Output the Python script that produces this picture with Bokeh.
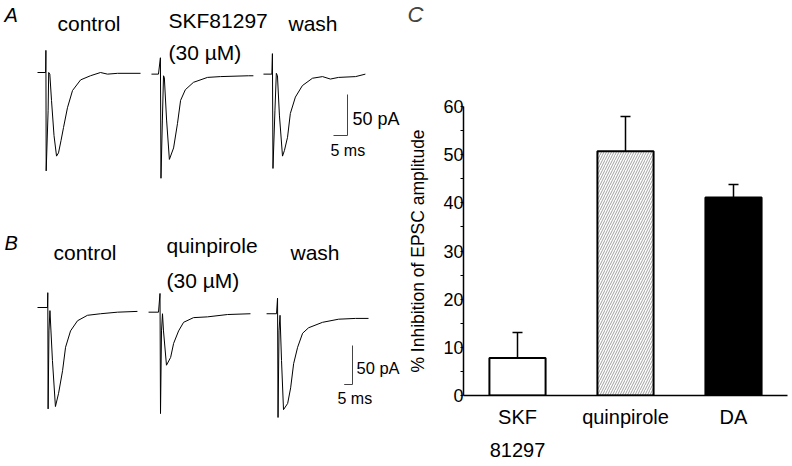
from bokeh.plotting import figure
from bokeh.layouts import row, column
from bokeh.models import Range1d, Label, FixedTicker, Whisker, TeeHead, ColumnDataSource
from bokeh.embed import file_html
from bokeh.resources import INLINE

FONT = "Liberation Sans"

# ---------------- data ----------------
# Panel A sweeps: time (ms from sweep start), current (pA relative to baseline)
a_ctrl_t = [0, 2.9, 3.0, 3.1, 3.8, 4.0, 4.4, 5.0, 5.9, 6.8, 7.5, 8.4, 9.3, 10.7, 12.5, 15.4, 18.9, 22.5, 25.0, 28.6, 36.8]
a_ctrl_i = [0, 0, 27, -120, -46, 0, -2, -34, -77, -102, -98, -83, -67, -43, -22, -9, -4, 0, -2, -1, -1]
a_skf_t = [0, 2.5, 3.2, 3.4, 3.9, 4.3, 4.6, 5.4, 6.4, 7.9, 9.3, 10.4, 12.1, 15.0, 20.0, 24.6, 34.6, 36.4]
a_skf_i = [-2, -2, 18, -129, -58, -4, -6, -58, -106, -92, -62, -34, -21, -12, -6, -5, -4, -4]
a_wash_t = [0, 3.0, 3.2, 3.4, 4.1, 4.6, 5.0, 5.7, 6.8, 7.5, 8.6, 9.6, 11.4, 13.9, 17.5, 21.1, 23.9, 26.8, 32.9, 36.4]
a_wash_i = [-2, -2, 23, -117, -46, -1, -4, -52, -102, -95, -79, -50, -30, -16, -7, -5, -8, -6, -5, -2]

# Panel B sweeps
b_ctrl_t = [0, 6.0, 6.2, 6.4, 6.9, 7.5, 9.0, 10.8, 12.7, 15.1, 16.9, 19.9, 24.1, 30.1, 38.0, 48.2, 60.2]
b_ctrl_i = [0, 0, 19, -130, -30, -4, -68, -127, -110, -81, -51, -30, -17, -10, -8, -6, -5]
b_quin_t = [0, 6.0, 6.9, 7.2, 7.8, 8.4, 9.0, 10.8, 13.3, 15.1, 18.1, 21.1, 27.1, 35.5, 47.6, 61.4]
b_quin_i = [-6, -6, 18, -136, -30, -8, -30, -74, -64, -46, -30, -19, -13, -12, -9, -8]
b_wash_t = [0, 6.0, 6.6, 6.9, 7.5, 8.1, 9.0, 10.2, 12.7, 14.5, 16.3, 18.7, 21.7, 25.3, 33.7, 43.4, 53.6, 61.4]
b_wash_i = [-8, -8, 12, -141, -30, -10, -68, -131, -123, -103, -72, -51, -33, -26, -19, -15, -14, -14]

a_titles = ["control", "SKF81297", "wash"]
b_titles = ["control", "quinpirole", "wash"]
conc_label = "(30 \u00b5M)"
scale_ms = 5
scale_pa = 50

# Panel C bar chart
bar_labels = ["SKF\n81297", "quinpirole", "DA"]
inhibition = [7.8, 50.7, 41.1]
inhibition_sem = [5.3, 7.2, 2.7]
y_ticks = [0, 10, 20, 30, 40, 50, 60]
y_minor = [5, 15, 25, 35, 45, 55]

LABEL_SIZE = "21px"


def bare_figure(width, height, x_range, y_range, **kw):
    p = figure(width=width, height=height, output_backend="svg", toolbar_location=None,
               x_range=x_range, y_range=y_range, outline_line_color=None,
               background_fill_color="white", border_fill_color="white", **kw)
    p.xgrid.visible = False
    p.ygrid.visible = False
    return p


# ---------------- trace panels ----------------
class TracePanel:
    def __init__(self, width, height, ms_px, pa_px, x0, y0):
        self.ms_px, self.pa_px, self.x0, self.y0 = ms_px, pa_px, x0, y0
        self.p = bare_figure(width, height,
                             Range1d(-x0 / ms_px, (width - x0) / ms_px),
                             Range1d(-(height - y0) / pa_px, y0 / pa_px),
                             x_axis_location=None, y_axis_location=None, min_border=0)

    def dx(self, px):
        return (px - self.x0) / self.ms_px

    def dy(self, py):
        return (self.y0 - py) / self.pa_px

    def text(self, px, py, txt, size=LABEL_SIZE, style="normal"):
        self.p.add_layout(Label(x=self.dx(px), y=self.dy(py), text=txt, text_font=FONT,
                                text_font_size=size, text_font_style=style,
                                text_align="left", text_baseline="middle", text_color="black"))

    def sweep(self, offset_ms, t, i):
        self.p.line([offset_ms + v for v in t], i, line_color="black", line_width=1)

    def scalebar(self, px, py):
        cx, cy = self.dx(px), self.dy(py)
        self.p.line([cx - scale_ms, cx, cx], [cy, cy, cy + scale_pa], line_color="#444", line_width=1)


# Panel A  (canvas 405 x 225)
A = TracePanel(405, 225, 2.8, 0.82, 37, 72)
a_offsets = [0, 40.7, 80.7]
for off, t, i in zip(a_offsets, [a_ctrl_t, a_skf_t, a_wash_t], [a_ctrl_i, a_skf_i, a_wash_i]):
    A.sweep(off, t, i)
A.scalebar(347, 135)
A.text(4, 14, "A", size="20px", style="italic")
A.text(57, 23, a_titles[0])
A.text(168, 20, a_titles[1])
A.text(168, 52, conc_label)
A.text(288, 23, a_titles[2])
A.text(352, 118, f"{scale_pa} pA", size="18px")
A.text(330, 150, f"{scale_ms} ms", size="16px")

# Panel B  (canvas 405 x 241, starts 225 px down)
B = TracePanel(405, 241, 1.66, 0.78, 37, 82)
b_offsets = [0, 66.9, 138.0]
for off, t, i in zip(b_offsets, [b_ctrl_t, b_quin_t, b_wash_t], [b_ctrl_i, b_quin_i, b_wash_i]):
    B.sweep(off, t, i)
B.scalebar(352, 159)
B.text(4, 17, "B", size="20px", style="italic")
B.text(53, 27, b_titles[0])
B.text(166, 20, b_titles[1])
B.text(166, 55, conc_label)
B.text(290, 27, b_titles[2])
B.text(356, 142, f"{scale_pa} pA", size="16.5px")
B.text(337, 173, f"{scale_ms} ms", size="16px")

# ---------------- Panel C ----------------
W_C = 387
H_LET = 30
H_C = 466 - H_LET
ML, MR, MT, MB = 55, 5, 76, 71

# strip holding the panel letter
pl = bare_figure(W_C, H_LET, Range1d(0, W_C), Range1d(0, H_LET),
                 x_axis_location=None, y_axis_location=None, min_border=0)
pl.frame_align = False
pl.add_layout(Label(x=2, y=H_LET - 14, text="C", text_font=FONT, text_font_size="22px",
                    text_font_style="italic", text_align="left", text_baseline="middle"))

pc = bare_figure(W_C, H_C, Range1d(0.5, 3.5), Range1d(0, 60),
                 min_border_left=ML, min_border_right=MR, min_border_top=MT, min_border_bottom=MB)
pc.frame_align = False

xpos = list(range(1, len(inhibition) + 1))
src = ColumnDataSource(dict(
    x=xpos, top=inhibition,
    upper=[v + e for v, e in zip(inhibition, inhibition_sem)],
    fill=["white", "white", "black"],
    hatch=[" ", "/", " "],
))
pc.vbar(x="x", top="top", bottom=0, width=0.52, source=src, fill_color="fill",
        line_color="black", line_width=2, hatch_pattern="hatch", hatch_color="#777",
        hatch_scale=5, hatch_weight=0.7)
pc.add_layout(Whisker(base="x", lower="top", upper="upper", source=src, line_width=1.5,
                      line_color="black", lower_head=None,
                      upper_head=TeeHead(size=10, line_width=1.5, line_color="black")))

yax = pc.yaxis[0]
yax.ticker = FixedTicker(ticks=y_ticks, minor_ticks=y_minor)
yax.axis_line_width = 1.5
yax.axis_line_color = "black"
yax.major_tick_line_color = "black"
yax.minor_tick_line_color = "black"
yax.major_tick_in = 0
yax.major_tick_out = 3
yax.minor_tick_in = 0
yax.minor_tick_out = 3
yax.major_label_standoff = -3
yax.major_label_text_font = FONT
yax.major_label_text_font_size = "18px"
yax.major_label_text_color = "black"
yax.axis_label = "% Inhibition of EPSC amplitude"
yax.axis_label_text_font = FONT
yax.axis_label_text_font_size = "17.5px"
yax.axis_label_text_font_style = "normal"
yax.axis_label_text_color = "black"
yax.axis_label_standoff = 12

xax = pc.xaxis[0]
xax.ticker = FixedTicker(ticks=xpos)
xax.major_label_overrides = {x: lab for x, lab in zip(xpos, bar_labels)}
xax.axis_line_width = 1.5
xax.axis_line_color = "black"
xax.major_tick_in = 0
xax.major_tick_out = 0
xax.minor_tick_line_color = None
xax.major_tick_line_color = None
xax.major_label_standoff = 10
xax.major_label_text_font = FONT
xax.major_label_text_font_size = "20px"
xax.major_label_text_color = "black"
xax.major_label_text_line_height = 1.5

layout = row(column(A.p, B.p), column(pl, pc))
open("out.html", "w").write(file_html(layout, INLINE))
